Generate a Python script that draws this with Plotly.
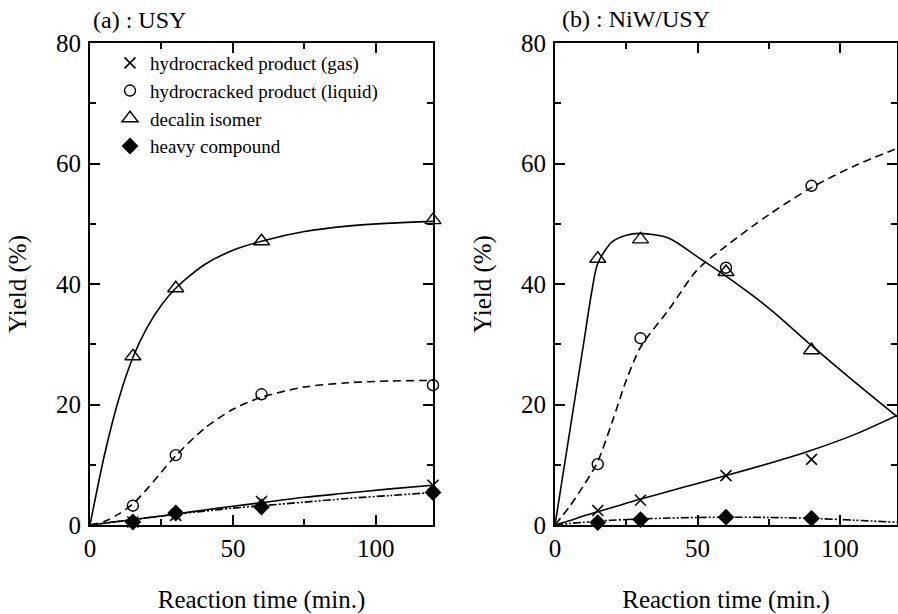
import plotly.graph_objects as go

# ---------------- data ----------------
# measured points, panel (a) USY
time_a = [15, 30, 60, 120]
gas_a = [0.5, 1.6, 3.9, 6.6]
liquid_a = [3.2, 11.6, 21.7, 23.2]
isomer_a = [28.0, 39.3, 47.1, 50.6]
heavy_a = [0.5, 2.0, 3.0, 5.4]

# measured points, panel (b) NiW/USY
time_b = [15, 30, 60, 90]
gas_b = [2.4, 4.1, 8.2, 10.9]
liquid_b = [10.1, 31.0, 42.7, 56.3]
isomer_b = [44.2, 47.4, 42.0, 29.0]
heavy_b = [0.4, 0.9, 1.3, 1.1]

# fitted curves, panel (a)
fit_time_a = [0, 5, 10, 15, 20, 25, 30, 40, 50, 60, 75, 90, 105, 120]
isomer_fit_a = [0, 11.5, 20.8, 27.8, 32.8, 36.5, 39.3, 43.2, 45.6, 47.1, 48.7, 49.6, 50.1, 50.4]
liquid_fit_a = [0, 0.6, 1.8, 3.5, 6.0, 8.8, 11.5, 16.0, 19.2, 21.2, 22.9, 23.6, 23.9, 24.0]
gas_fit_a = [0, 0.3, 0.6, 0.9, 1.2, 1.5, 1.8, 2.5, 3.1, 3.7, 4.6, 5.3, 6.0, 6.6]
heavy_fit_a = [0, 0.3, 0.6, 0.9, 1.2, 1.5, 1.8, 2.3, 2.8, 3.2, 3.8, 4.4, 4.9, 5.4]

# fitted curves, panel (b)
fit_time_b = [0, 5, 10, 13, 15, 20, 25, 30, 40, 50, 60, 75, 90, 105, 120]
isomer_fit_b = [0, 15.0, 30.0, 39.0, 43.4, 47.0, 48.1, 48.4, 47.6, 44.5, 41.3, 36.0, 29.8, 23.8, 18.0]
liquid_fit_b = [0, 3.0, 6.5, 8.8, 10.5, 17.0, 24.0, 29.5, 35.8, 42.4, 46.3, 51.5, 56.0, 59.6, 62.5]
gas_fit_b = [0, 0.7, 1.5, 1.9, 2.2, 2.9, 3.6, 4.3, 5.6, 6.9, 8.2, 10.2, 12.4, 15.0, 18.2]
heavy_fit_b = [0, 0.25, 0.45, 0.55, 0.65, 0.8, 0.9, 1.0, 1.15, 1.25, 1.3, 1.25, 1.1, 0.8, 0.45]

series_names = ["hydrocracked product (gas)", "hydrocracked product (liquid)",
                "decalin isomer", "heavy compound"]
panel_titles = ["(a) : USY", "(b) : NiW/USY"]
x_title = "Reaction time (min.)"
y_title = "Yield (%)"

# ---------------- styles ----------------
FONT = "Liberation Serif"
markers = [
    dict(symbol="x-thin-open", size=11, color="black", line=dict(width=1.6, color="black")),
    dict(symbol="circle-open", size=11, color="black", line=dict(width=1.4, color="black")),
    dict(symbol="triangle-up-open", size=14, color="black", line=dict(width=1.4, color="black")),
    dict(symbol="diamond", size=13, color="black", line=dict(width=0)),
]
dashes = ["solid", "8px,5px", "solid", "8px,2px,2px,2px,2px,2px"]

fig = go.Figure()

panels = [
    ("x", "y", time_a, [gas_a, liquid_a, isomer_a, heavy_a],
     fit_time_a, [gas_fit_a, liquid_fit_a, isomer_fit_a, heavy_fit_a], True),
    ("x2", "y2", time_b, [gas_b, liquid_b, isomer_b, heavy_b],
     fit_time_b, [gas_fit_b, liquid_fit_b, isomer_fit_b, heavy_fit_b], False),
]

for xa, ya, t, ys, ft, fys, leg in panels:
    for i in range(4):
        fig.add_trace(go.Scatter(
            x=ft, y=fys[i], mode="lines", xaxis=xa, yaxis=ya,
            line=dict(color="black", width=1.6, dash=dashes[i], shape="spline", smoothing=0.8),
            showlegend=False, hoverinfo="skip"))
    for i in range(4):
        fig.add_trace(go.Scatter(
            x=t, y=ys[i], mode="markers", xaxis=xa, yaxis=ya, name=series_names[i],
            marker=markers[i], cliponaxis=False, showlegend=leg, legendrank=i + 1))

def axis_common(rng, dtick, mdtick, standoff):
    return dict(
        range=rng, tick0=0, dtick=dtick, showline=True, linewidth=2, linecolor="black",
        mirror="ticks", ticks="inside", ticklen=10, tickwidth=2, tickcolor="black",
        showgrid=False, zeroline=False, ticklabelstandoff=standoff, automargin=False,
        tickfont=dict(family=FONT, size=25, color="black"),
        minor=dict(dtick=mdtick, ticks="inside", ticklen=6, tickwidth=2,
                   tickcolor="black", showgrid=False),
    )

ydom = [1 - 525 / 614, 1 - 43 / 614]
xdom_a = [90 / 898, 433 / 898]
xdom_b = [555 / 898, 897 / 898]

xt = dict(text=x_title, font=dict(family=FONT, size=25, color="black"), standoff=30)
yt = dict(text=y_title, font=dict(family=FONT, size=25, color="black"), standoff=22)

fig.update_layout(
    width=898, height=614,
    margin=dict(l=0, r=0, t=0, b=0, autoexpand=False),
    paper_bgcolor="white", plot_bgcolor="white",
    font=dict(family=FONT, color="black"),
    xaxis=dict(domain=xdom_a, anchor="y", title=xt, **axis_common([0, 120], 50, 25, 0)),
    yaxis=dict(domain=ydom, anchor="x", title=yt, **axis_common([0, 80], 20, 10, 2)),
    xaxis2=dict(domain=xdom_b, anchor="y2", title=xt, **axis_common([0, 120], 50, 25, 0)),
    yaxis2=dict(domain=ydom, anchor="x2", title=yt, **axis_common([0, 80], 20, 10, 2)),
    legend=dict(x=110 / 898, y=1 - 44 / 614, xanchor="left", yanchor="top",
                bgcolor="rgba(0,0,0,0)", borderwidth=0,
                font=dict(family=FONT, size=19, color="black"),
                itemwidth=30, tracegroupgap=0),
    showlegend=True,
    annotations=[
        dict(text=panel_titles[0], xref="paper", yref="paper", x=91 / 898, y=1 - 20 / 614,
             xanchor="left", yanchor="middle", showarrow=False,
             font=dict(family=FONT, size=24, color="black")),
        dict(text=panel_titles[1], xref="paper", yref="paper", x=560 / 898, y=1 - 19 / 614,
             xanchor="left", yanchor="middle", showarrow=False,
             font=dict(family=FONT, size=24, color="black")),
    ],
)

fig.write_html("out.html")
